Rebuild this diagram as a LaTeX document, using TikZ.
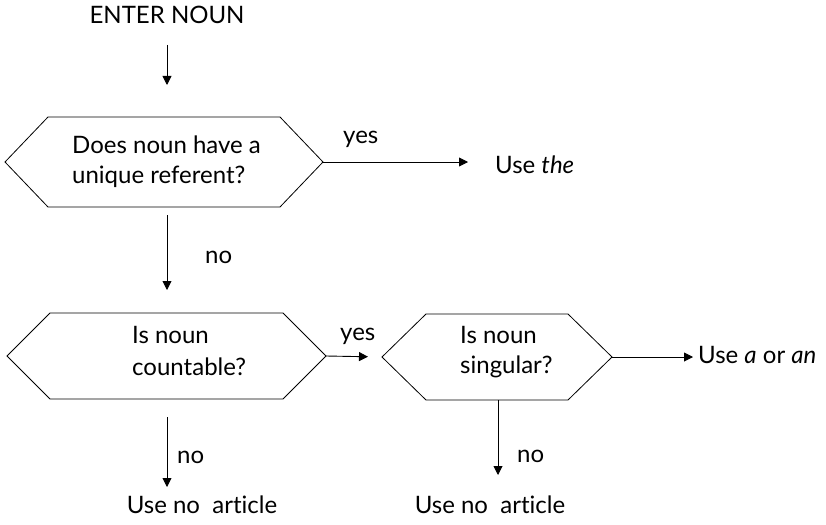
\documentclass[tikz,border=0pt]{standalone}
\usepackage{fontspec}
\setmainfont{Lato}[Ligatures=NoCommon]
\usetikzlibrary{arrows.meta}
\newcommand\hexdraw[2]{%
  \draw[line width=0.8pt] (#1.north west) -- (#1.north east) -- ([xshift=#2]#1.east)
    -- (#1.south east) -- (#1.south west) -- ([xshift=-#2]#1.west) -- cycle;}
\begin{document}
\begin{tikzpicture}[x=1pt,y=-1pt,
  lbl/.style={font=\fontsize{24}{28}\selectfont, inner sep=0pt},
  arr/.style={line width=0.9pt,-{Triangle[length=9pt,width=9pt]}},
  decbox/.style={draw=none, rectangle, inner sep=0pt, outer sep=0pt},
]
\useasboundingbox (0,0) rectangle (826,524);

% decision boxes
\node[decbox, minimum width=232pt, minimum height=90pt] (d1) at (164,162) {};
\hexdraw{d1}{43pt}
\node[decbox, minimum width=233pt, minimum height=86pt] (d2) at (166.5,356) {};
\hexdraw{d2}{43pt}
\node[decbox, minimum width=142pt, minimum height=86pt] (d3) at (497,357) {};
\hexdraw{d3}{44pt}

\coordinate (d1r) at ([xshift=43pt]d1.east);
\coordinate (d2r) at ([xshift=43pt]d2.east);
\coordinate (d3l) at ([xshift=-44pt]d3.west);
\coordinate (d3r) at ([xshift=44pt]d3.east);

% texts in boxes
\node[lbl, anchor=base west] (d1a) at (72,153) {Does noun have a};
\node[lbl, anchor=base west] (d1b) at (72,183) {unique referent?};
\node[lbl, anchor=base west] (d2a) at (132,343) {Is noun};
\node[lbl, anchor=base west] (d2b) at (132,375) {countable?};
\node[lbl, anchor=base west] (d3a) at (460,343) {Is noun};
\node[lbl, anchor=base west] (d3b) at (460,373) {singular?};

% terminal texts
\node[lbl, anchor=base] (enter) at (167,24) {ENTER NOUN};
\node[lbl, anchor=base west] (uthe) at (495,173) {Use \textit{the}};
\node[lbl, anchor=base west] (uaan) at (698,363) {Use \textit{a} or \textit{an}};
\node[lbl, anchor=base] (uno1) at (202,513) {Use no~~article};
\node[lbl, anchor=base] (uno2) at (490,513) {Use no~~article};

% branch labels
\node[lbl, anchor=base west] (yes1) at (343,143) {yes};
\node[lbl, anchor=base west] (no1) at (205,263) {no};
\node[lbl, anchor=base west] (yes2) at (340,340) {yes};
\node[lbl, anchor=base west] (no2) at (177,463) {no};
\node[lbl, anchor=base west] (no3) at (517,462) {no};

% connectors
\coordinate (e1s) at (167,45);
\coordinate (e1e) at (167,85);
\draw[arr] (e1s) -- (e1e);
\draw[arr, shorten >=27pt] (d1r) -- (d1r -| uthe.west);
\coordinate (n1s) at (167,215);
\coordinate (n1e) at (167,290);
\draw[arr] (n1s) -- (n1e);
\draw[arr, shorten >=14pt] (d2r) -- (d3l);
\draw[arr, shorten >=5pt] (d3r) -- (d3r -| uaan.west);
\coordinate (n2s) at (167,417);
\coordinate (n2e) at (167,487);
\draw[arr] (n2s) -- (n2e);
\coordinate (n3e) at (498,475);
\draw[arr] (d3.south -| n3e) -- (n3e);
\end{tikzpicture}
\end{document}
